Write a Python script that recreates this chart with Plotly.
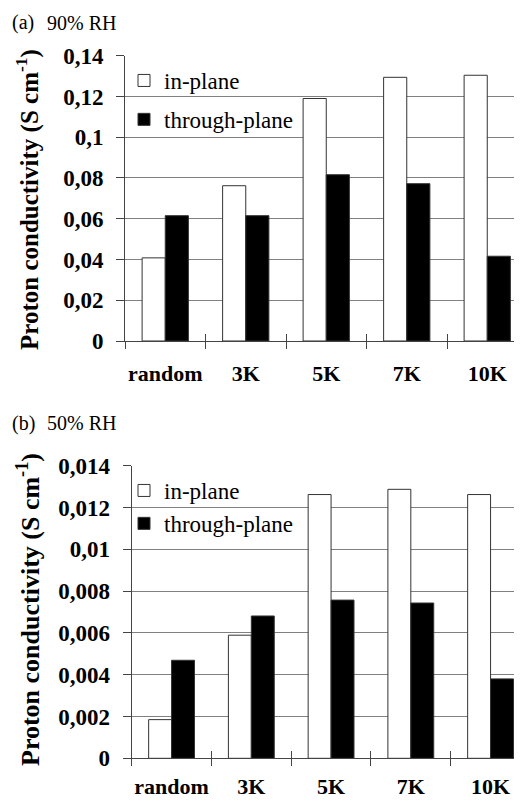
import plotly.graph_objects as go

categories = ["random", "3K", "5K", "7K", "10K"]
inplane_90 = [0.0408, 0.0762, 0.1190, 0.1294, 0.1304]
through_90 = [0.0615, 0.0615, 0.0816, 0.0772, 0.0416]
inplane_50 = [0.00185, 0.00589, 0.01262, 0.01287, 0.01262]
through_50 = [0.00469, 0.00681, 0.00757, 0.00743, 0.00380]
yticks_a = [0, 0.02, 0.04, 0.06, 0.08, 0.1, 0.12, 0.14]
ytext_a = ["0", "0,02", "0,04", "0,06", "0,08", "0,1", "0,12", "0,14"]
yticks_b = [0, 0.002, 0.004, 0.006, 0.008, 0.01, 0.012, 0.014]
ytext_b = ["0", "0,002", "0,004", "0,006", "0,008", "0,01", "0,012", "0,014"]
boundaries = [-0.5, 0.5, 1.5, 2.5, 3.5]

# page has an 8px body margin; figure coordinates are page coordinates minus OFF
OFF = 8
W, H = 514, 795
FONT = "Liberation Serif"

def fx(p):
    return (p - OFF) / W

def py(p):
    return 1 - (p - OFF) / H

fig = go.Figure()
line = dict(color="#333", width=1)
fig.add_bar(x=categories, y=inplane_90, name="in-plane", marker=dict(color="white", line=line),
            xaxis="x", yaxis="y", legend="legend", legendgroup="a1")
fig.add_bar(x=categories, y=through_90, name="through-plane", marker=dict(color="black", line=line),
            xaxis="x", yaxis="y", legend="legend", legendgroup="a2")
fig.add_bar(x=categories, y=inplane_50, name="in-plane", marker=dict(color="white", line=line),
            xaxis="x2", yaxis="y2", legend="legend2", legendgroup="b1")
fig.add_bar(x=categories, y=through_50, name="through-plane", marker=dict(color="black", line=line),
            xaxis="x2", yaxis="y2", legend="legend2", legendgroup="b2")

AX = "#444"
ax_common = dict(showline=True, linecolor=AX, linewidth=1, ticks="outside", ticklen=7,
                 tickcolor=AX, tickson="boundaries", showgrid=False, automargin=False,
                 tickangle=0,
                 tickfont=dict(family=FONT, size=22, color="black", weight="bold"))
ay_common = dict(showline=True, linecolor=AX, linewidth=1, ticks="outside", ticklen=8,
                 tickcolor=AX, showgrid=True, gridcolor="#808080", gridwidth=1, zeroline=False,
                 automargin=False, ticklabelstandoff=8,
                 tickfont=dict(family=FONT, size=23, color="black", weight="bold"))
# overlay axes drawing the upper half of the crossing category ticks
ov_common = dict(type="linear", showline=False, showgrid=False, zeroline=False, ticks="inside",
                 ticklen=7, tickcolor=AX, showticklabels=False, tickvals=boundaries,
                 automargin=False)

ca = 80.5
cb = 79.75
xa0, xb0 = 125, 131.7
ra = [-0.5, (522 - xa0) / ca - 0.5]
rb = [-0.5, (522 - xb0) / cb - 0.5]
fig.update_layout(
    width=W, height=H, margin=dict(l=0, r=0, t=0, b=0, autoexpand=False),
    paper_bgcolor="white", plot_bgcolor="white",
    barmode="group", bargap=0.425, bargroupgap=0,
    xaxis=dict(domain=[fx(xa0), 1], range=ra, anchor="y", ticklabelstandoff=13, **ax_common),
    yaxis=dict(domain=[py(341), py(55.7)], range=[0, 0.14], anchor="x",
               tickvals=yticks_a, ticktext=ytext_a, **ay_common),
    xaxis2=dict(domain=[fx(xb0), 1], range=rb, anchor="y2", ticklabelstandoff=8, **ax_common),
    yaxis2=dict(domain=[py(758.3), py(465.7)], range=[0, 0.014], anchor="x2",
                tickvals=yticks_b, ticktext=ytext_b, **ay_common),
    xaxis3=dict(domain=[fx(xa0), 1], range=ra, anchor="y", overlaying="x", **ov_common),
    xaxis4=dict(domain=[fx(xb0), 1], range=rb, anchor="y2", overlaying="x2", **ov_common),
    legend=dict(x=fx(124), y=py(59), xanchor="left", yanchor="top", bgcolor="rgba(0,0,0,0)",
                font=dict(family=FONT, size=23, color="black"), itemwidth=30, tracegroupgap=6),
    legend2=dict(x=fx(124), y=py(469), xanchor="left", yanchor="top", bgcolor="rgba(0,0,0,0)",
                 font=dict(family=FONT, size=23, color="black"), itemwidth=30, tracegroupgap=0),
    showlegend=True,
)
# invisible helper traces so the overlay axes are drawn
fig.add_scatter(x=[None], y=[None], xaxis="x3", yaxis="y", showlegend=False, hoverinfo="skip")
fig.add_scatter(x=[None], y=[None], xaxis="x4", yaxis="y2", showlegend=False, hoverinfo="skip")

ytitle = "Proton conductivity (S cm<sup>-1</sup>)"
for yy, fs in [(200, 25), (610, 26)]:
    fig.add_annotation(text=ytitle, textangle=-90, x=fx(28), y=py(yy), xref="paper", yref="paper",
                       xanchor="center", yanchor="middle", showarrow=False,
                       font=dict(family=FONT, size=fs, color="black", weight="bold"))
for lab, rh, yy in [("(a)", "90% RH", 23), ("(b)", "50% RH", 423)]:
    fig.add_annotation(text=lab, x=fx(10), y=py(yy), xref="paper", yref="paper",
                       xanchor="left", yanchor="middle", showarrow=False,
                       font=dict(family=FONT, size=20, color="black"))
    fig.add_annotation(text=rh, x=fx(45), y=py(yy), xref="paper", yref="paper",
                       xanchor="left", yanchor="middle", showarrow=False,
                       font=dict(family=FONT, size=20, color="black"))

fig.write_html("out.html")
